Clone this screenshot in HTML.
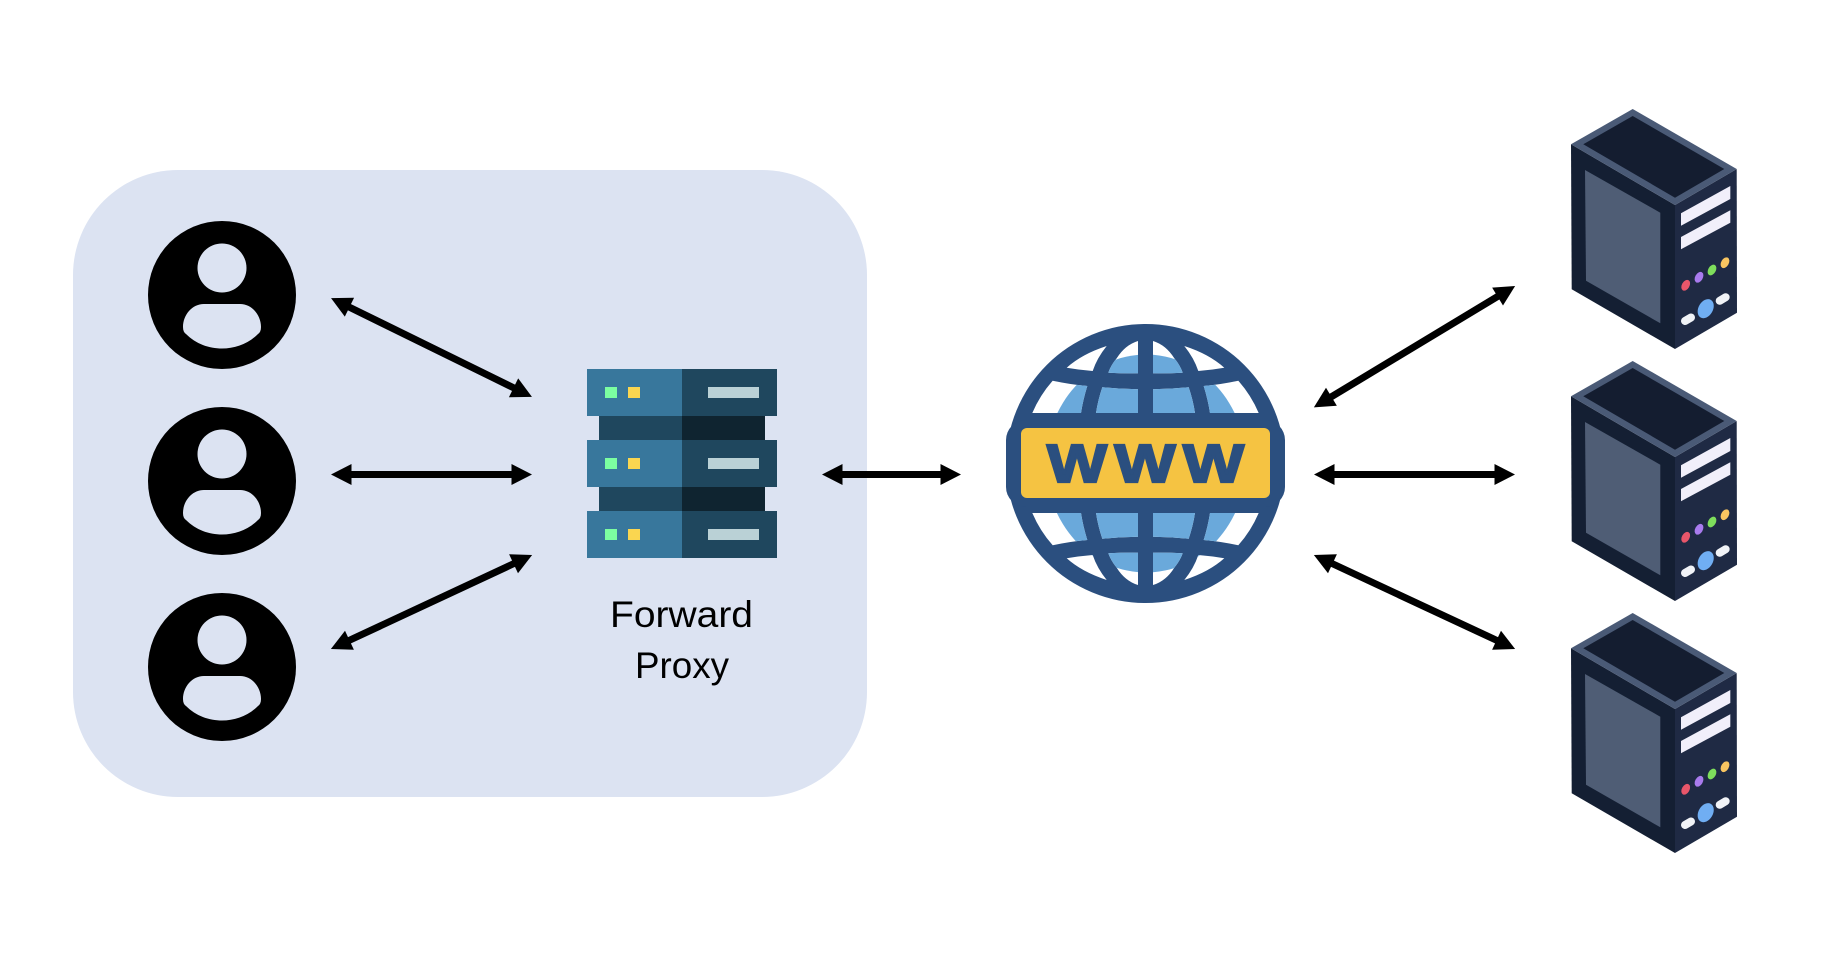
<!DOCTYPE html>
<html lang="en">
<head>
<meta charset="utf-8">
<title>Forward Proxy</title>
<style>
html,body{margin:0;padding:0;background:#fff;width:1842px;height:956px;overflow:hidden}
svg{display:block}
</style>
</head>
<body>
<svg width="1842" height="956" viewBox="0 0 1842 956" xmlns="http://www.w3.org/2000/svg">
<defs>
<marker id="h" markerUnits="userSpaceOnUse" markerWidth="23" markerHeight="24" refX="1" refY="12" orient="auto-start-reverse">
<path d="M0.5 1.5L21 12L0.5 22.5z" fill="#000"/>
</marker>
<g id="user">
<circle cx="222" cy="295" r="74" fill="#000"/>
<circle cx="222" cy="268" r="24.5" fill="#dce3f2"/>
<path d="M204 304H240C252 304 261 315 261 327Q261 332 258 334C248 344 235 348.5 222 348.5C209 348.5 196 344 186 334Q183 332 183 327C183 315 192 304 204 304Z" fill="#dce3f2"/>
</g>
<g id="tower">
<polygon points="1571,144.3 1675,205 1675,349 1571.7,289.3" fill="#141f33"/>
<polygon points="1675,205 1736.7,169 1737,312.7 1675,349" fill="#1f2a44"/>
<polygon points="1632.7,109 1571,144.3 1675,205 1736.7,169" fill="#4a5a76"/>
<polygon points="1632.7,116 1583.3,144.3 1675,197.7 1724.3,169" fill="#141d30"/>
<polygon points="1585,170 1660.3,212.7 1660.3,323.3 1586,280.7" fill="#4f5d75"/>
<polygon points="1681,213.3 1730.3,186 1730.3,199 1681,225.7" fill="#f1effa"/>
<polygon points="1681,237 1730.3,210.3 1730.3,222.7 1681,249.3" fill="#f1effa"/>
<ellipse cx="1685.7" cy="285.3" rx="3.8" ry="5.8" transform="rotate(30 1685.7 285.3)" fill="#e8566a"/>
<ellipse cx="1699" cy="277.3" rx="3.8" ry="5.8" transform="rotate(30 1699 277.3)" fill="#a97bee"/>
<ellipse cx="1712" cy="270" rx="3.8" ry="5.8" transform="rotate(30 1712 270)" fill="#7ede5c"/>
<ellipse cx="1725" cy="262.7" rx="3.8" ry="5.8" transform="rotate(30 1725 262.7)" fill="#f9c561"/>
<ellipse cx="1705.7" cy="308.7" rx="7.2" ry="10.2" transform="rotate(30 1705.7 308.7)" fill="#70aef3"/>
<line x1="1685" y1="321" x2="1691" y2="317.5" stroke="#f1f3f7" stroke-width="8" stroke-linecap="round"/>
<line x1="1719.7" y1="300.8" x2="1725.7" y2="297.2" stroke="#f1f3f7" stroke-width="8" stroke-linecap="round"/>
</g>
<clipPath id="gaps">
<path d="M1106.7 346Q1082 354 1066.7 367.7Q1080 370 1092.7 371Q1097 358 1106.7 346Z"/>
<path d="M1052.7 380.7Q1040 395 1032.3 413H1081Q1083 400 1087.3 386Q1070 384.5 1052.7 380.7Z"/>
<path d="M1138 341Q1125 345 1116.7 358.3Q1111 365 1108.3 372.7Q1123 373.5 1138 373.3Z"/>
<path d="M1102.3 387.3Q1098 400 1096 413H1138V389.3Q1120 389 1102.3 387.3Z"/>
<path transform="matrix(-1 0 0 1 2291 0)" d="M1106.7 346Q1082 354 1066.7 367.7Q1080 370 1092.7 371Q1097 358 1106.7 346Z"/>
<path transform="matrix(-1 0 0 1 2291 0)" d="M1052.7 380.7Q1040 395 1032.3 413H1081Q1083 400 1087.3 386Q1070 384.5 1052.7 380.7Z"/>
<path transform="matrix(-1 0 0 1 2291 0)" d="M1138 341Q1125 345 1116.7 358.3Q1111 365 1108.3 372.7Q1123 373.5 1138 373.3Z"/>
<path transform="matrix(-1 0 0 1 2291 0)" d="M1102.3 387.3Q1098 400 1096 413H1138V389.3Q1120 389 1102.3 387.3Z"/>
<path transform="matrix(1 0 0 -1 0 926)" d="M1106.7 346Q1082 354 1066.7 367.7Q1080 370 1092.7 371Q1097 358 1106.7 346Z"/>
<path transform="matrix(1 0 0 -1 0 926)" d="M1052.7 380.7Q1040 395 1032.3 413H1081Q1083 400 1087.3 386Q1070 384.5 1052.7 380.7Z"/>
<path transform="matrix(1 0 0 -1 0 926)" d="M1138 341Q1125 345 1116.7 358.3Q1111 365 1108.3 372.7Q1123 373.5 1138 373.3Z"/>
<path transform="matrix(1 0 0 -1 0 926)" d="M1102.3 387.3Q1098 400 1096 413H1138V389.3Q1120 389 1102.3 387.3Z"/>
<path transform="matrix(-1 0 0 -1 2291 926)" d="M1106.7 346Q1082 354 1066.7 367.7Q1080 370 1092.7 371Q1097 358 1106.7 346Z"/>
<path transform="matrix(-1 0 0 -1 2291 926)" d="M1052.7 380.7Q1040 395 1032.3 413H1081Q1083 400 1087.3 386Q1070 384.5 1052.7 380.7Z"/>
<path transform="matrix(-1 0 0 -1 2291 926)" d="M1138 341Q1125 345 1116.7 358.3Q1111 365 1108.3 372.7Q1123 373.5 1138 373.3Z"/>
<path transform="matrix(-1 0 0 -1 2291 926)" d="M1102.3 387.3Q1098 400 1096 413H1138V389.3Q1120 389 1102.3 387.3Z"/>
</clipPath>
</defs>

<rect width="1842" height="956" fill="#fff"/>
<rect x="73" y="170" width="794" height="627" rx="105" ry="105" fill="#dce3f2"/>

<use href="#user"/>
<use href="#user" y="186"/>
<use href="#user" y="372"/>

<g stroke="#000" stroke-width="7" fill="none">
<line x1="349" y1="307" x2="514" y2="388" marker-start="url(#h)" marker-end="url(#h)"/>
<line x1="351" y1="474.5" x2="512" y2="474.5" marker-start="url(#h)" marker-end="url(#h)"/>
<line x1="349" y1="640.5" x2="514" y2="563.5" marker-start="url(#h)" marker-end="url(#h)"/>
<line x1="842" y1="474.5" x2="941" y2="474.5" marker-start="url(#h)" marker-end="url(#h)"/>
<line x1="1331" y1="397" x2="1498" y2="296.3" marker-start="url(#h)" marker-end="url(#h)"/>
<line x1="1334" y1="474.5" x2="1495" y2="474.5" marker-start="url(#h)" marker-end="url(#h)"/>
<line x1="1332" y1="563.5" x2="1497" y2="640.5" marker-start="url(#h)" marker-end="url(#h)"/>
</g>

<!-- proxy server -->
<rect x="599" y="416" width="83" height="24" fill="#1f475e"/>
<rect x="682" y="416" width="83" height="24" fill="#0f2430"/>
<rect x="599" y="487" width="83" height="24" fill="#1f475e"/>
<rect x="682" y="487" width="83" height="24" fill="#0f2430"/>
<rect x="587" y="369" width="95" height="47" fill="#38779c"/>
<rect x="682" y="369" width="95" height="47" fill="#1f475e"/>
<rect x="587" y="440" width="95" height="47" fill="#38779c"/>
<rect x="682" y="440" width="95" height="47" fill="#1f475e"/>
<rect x="587" y="511" width="95" height="47" fill="#38779c"/>
<rect x="682" y="511" width="95" height="47" fill="#1f475e"/>
<g fill="#7cfea1">
<rect x="605" y="387" width="12" height="11"/><rect x="605" y="458" width="12" height="11"/><rect x="605" y="529" width="12" height="11"/>
</g>
<g fill="#fad650">
<rect x="628" y="387" width="12" height="11"/><rect x="628" y="458" width="12" height="11"/><rect x="628" y="529" width="12" height="11"/>
</g>
<g fill="#bad1d6">
<rect x="708" y="387" width="51" height="11"/><rect x="708" y="458" width="51" height="11"/><rect x="708" y="529" width="51" height="11"/>
</g>
<text x="610" y="627" font-family="'Liberation Sans',sans-serif" font-size="37" textLength="143" lengthAdjust="spacingAndGlyphs" fill="#000">Forward</text>
<text x="635" y="678" font-family="'Liberation Sans',sans-serif" font-size="37" textLength="94" lengthAdjust="spacingAndGlyphs" fill="#000">Proxy</text>

<!-- globe -->
<circle cx="1145.5" cy="463.5" r="139.5" fill="#2b4f7f"/>
<rect x="1006" y="420" width="279" height="87" rx="20" fill="#2b4f7f"/>
<g clip-path="url(#gaps)">
<rect x="1006" y="324" width="279" height="280" fill="#fff"/>
<ellipse cx="1146" cy="463.5" rx="100" ry="109" fill="#6aa9db"/>
</g>
<rect x="1021" y="428" width="249" height="70" rx="6" fill="#f5c342"/>
<g font-family="'Liberation Sans',sans-serif" font-weight="bold" font-size="54" fill="#2b4f7f" stroke="#2b4f7f" stroke-width="2.2">
<text x="1047" y="482" textLength="60" lengthAdjust="spacingAndGlyphs">W</text>
<text x="1114.5" y="482" textLength="61" lengthAdjust="spacingAndGlyphs">W</text>
<text x="1183" y="482" textLength="61" lengthAdjust="spacingAndGlyphs">W</text>
</g>

<!-- towers -->
<use href="#tower"/>
<use href="#tower" y="252"/>
<use href="#tower" y="504"/>
</svg>
</body>
</html>
